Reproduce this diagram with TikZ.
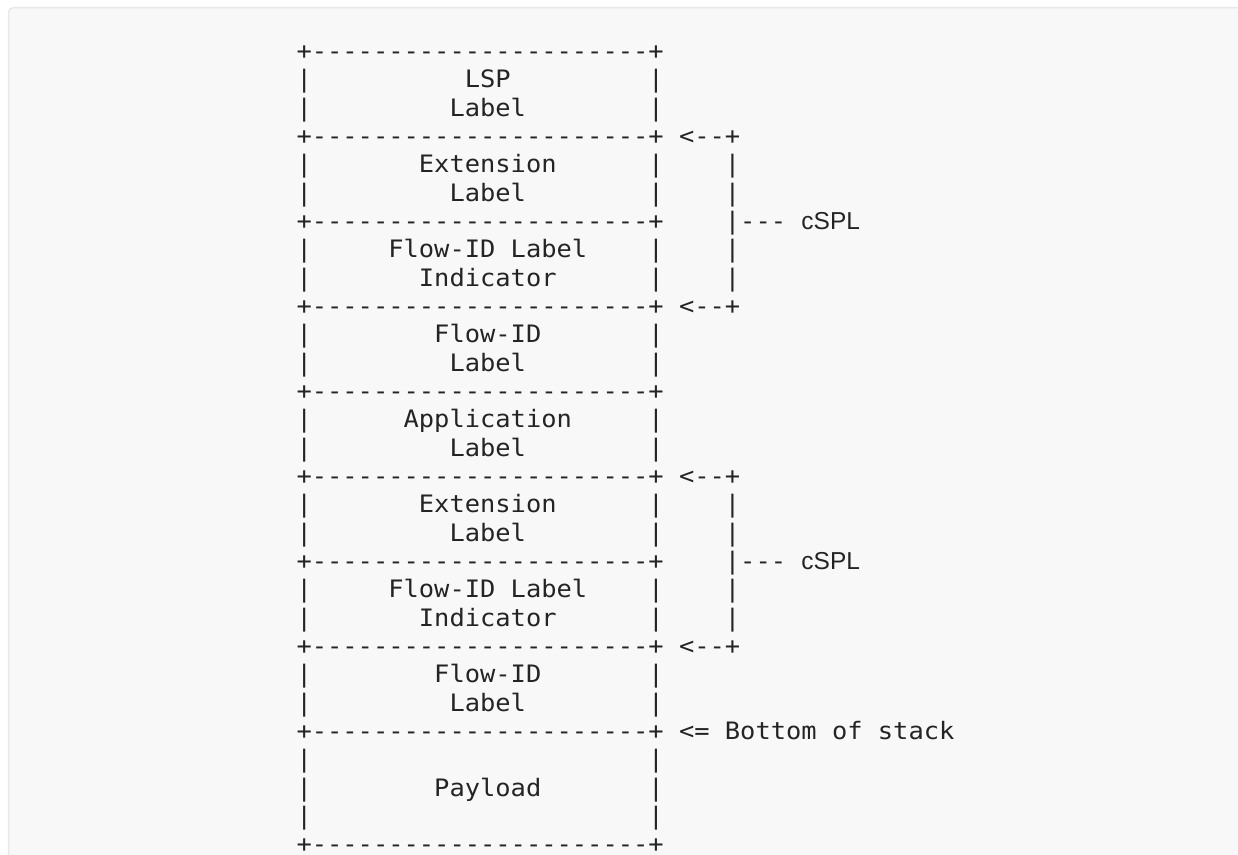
\documentclass[tikz,border=0pt]{standalone}
\usepackage{fontspec}
\newfontfamily\monofnt[Ligatures=TeXOff]{DejaVu Sans Mono}
\newfontfamily\sansfnt{Liberation Sans}
\definecolor{ink}{HTML}{242424}
\definecolor{panel}{HTML}{F8F8F8}
\definecolor{panelborder}{HTML}{E8E8E8}
\tikzset{
  asc/.style={anchor=base west, inner sep=0pt, outer sep=0pt, text=ink,
    font=\monofnt\fontsize{24}{24}\selectfont},
  sanslbl/.style={anchor=base west, inner sep=0pt, outer sep=0pt, text=ink,
    font=\sansfnt\fontsize{24.5}{24.5}\selectfont},
}
% #1 column, #2 row, #3 text
\newcommand\asc[3]{\node[asc] (a-#2-#1) at ({296.5+15.3*#1},{59.5+28.33*(#2-1)}) {\scalebox{1.059}[1]{#3}};}
\begin{document}
\begin{tikzpicture}[x=1pt,y=-1pt]
\useasboundingbox (0,0) rectangle (1238,854);
\clip (0,0) rectangle (1238,854);
\fill[white] (0,0) rectangle (1238,854);
\draw[fill=panel, draw=panelborder, line width=1.5pt, rounded corners=5pt] (8.5,7.5) rectangle (1270,890);
% borders
\foreach \r in {1,4,7,10,13,16,19,22,25,29} {\asc{0}{\r}{+----------------------+}}
\foreach \r in {2,3,5,6,8,9,11,12,14,15,17,18,20,21,23,24,26,27,28} {\asc{0}{\r}{|}\asc{23}{\r}{|}}
% contents
\asc{11}{2}{LSP}
\asc{10}{3}{Label}
\asc{8}{5}{Extension}
\asc{10}{6}{Label}
\asc{6}{8}{Flow-ID}
\asc{14}{8}{Label}
\asc{8}{9}{Indicator}
\asc{9}{11}{Flow-ID}
\asc{10}{12}{Label}
\asc{7}{14}{Application}
\asc{10}{15}{Label}
\asc{8}{17}{Extension}
\asc{10}{18}{Label}
\asc{6}{20}{Flow-ID}
\asc{14}{20}{Label}
\asc{8}{21}{Indicator}
\asc{9}{23}{Flow-ID}
\asc{10}{24}{Label}
\asc{9}{27}{Payload}
% brackets
\foreach \b in {0,12} {
  \asc{25}{4+\b}{<--+}
  \asc{28}{5+\b}{|}
  \asc{28}{6+\b}{|}
  \asc{28}{7+\b}{|---}
  \asc{28}{8+\b}{|}
  \asc{28}{9+\b}{|}
  \asc{25}{10+\b}{<--+}
}
\node[sanslbl] (cspl1) at ({296.5+15.3*33},{59.5+28.33*6}) {cSPL};
\node[sanslbl] (cspl2) at ({296.5+15.3*33},{59.5+28.33*18}) {cSPL};
% bottom of stack
\asc{25}{25}{<=}
\asc{28}{25}{Bottom}
\asc{35}{25}{of}
\asc{38}{25}{stack}
\end{tikzpicture}
\end{document}
